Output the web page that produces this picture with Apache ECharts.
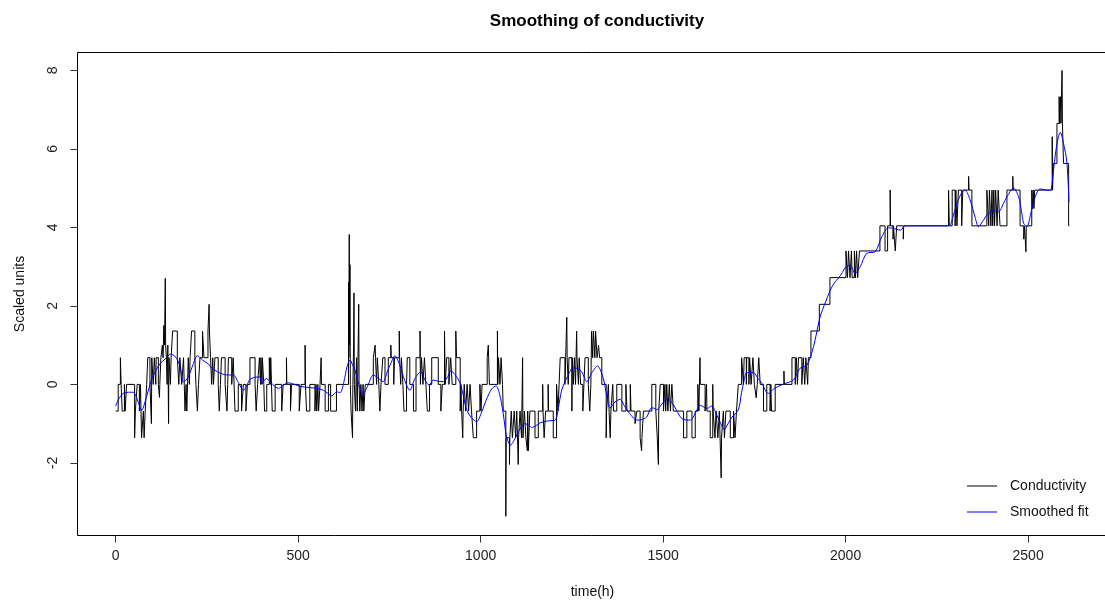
<!DOCTYPE html>
<html>
<head>
<meta charset="utf-8">
<script src="https://cdn.jsdelivr.net/npm/echarts@6/dist/echarts.min.js"></script>
<style>
  html, body { margin: 0; padding: 0; background: #ffffff; }
  #chart { width: 1105px; height: 602px; }
</style>
</head>
<body>
<div id="chart"></div>
<script>
// Axis ticks
const xTicks = [0, 500, 1000, 1500, 2000, 2500];
const yTicks = [-2, 0, 2, 4, 6, 8];

// Conductivity readings: [hour, scaled value]; each value holds until the next hour listed
const conductivity = [
  [0,-0.68],[7,0],[13,0.68],[15,0],[18,-0.68],[24,0],[26,-0.68],[30,0],[52,-1.36],[54,-0.68],[59,0],[65,-0.68],[68,0],
  [71,-1.36],[76,-0.68],[78,-1.36],[81,-0.68],[85,0],[88,0.68],[94,0],[98,-1.0],[99,0.68],[103,0],[106,0.68],[110,0],
  [111,0.68],[117,0],[120,-0.33],[121,0],[124,0.68],[128,1.0],[130,0.68],[132,1.5],[134,1.0],[136,2.7],[137,1.0],[139,0.68],
  [141,0],[143,1.0],[145,-1.0],[146,0.68],[150,0],[152,0.68],[156,1.36],[169,0.68],[173,0],[176,0.68],[181,0],[186,0.68],
  [188,0],[190,-0.68],[193,0],[195,-0.68],[199,0.68],[202,0],[204,0.68],[208,1.36],[217,0.68],[220,0],[224,-0.68],[227,0],
  [231,0.68],[238,1.36],[242,0.68],[253,1.36],[256,2.04],[257,1.36],[260,0.68],[263,0],[266,0.68],[268,0],[272,0.68],[281,0],
  [284,-0.68],[287,0],[290,0.68],[300,0],[305,-0.68],[307,0],[309,0.68],[318,0],[322,0.68],[327,-0.68],[336,0],[345,-0.68],
  [350,0],[357,-0.68],[361,0],[368,0.68],[382,0],[385,-0.68],[389,0],[394,0.68],[397,0],[398,0.68],[401,0],[402,0.68],
  [406,0],[408,-0.68],[414,0],[421,0.68],[424,0],[425,0.68],[429,-0.68],[437,0],[455,-0.68],[459,0],[468,0.68],[469,0],
  [479,-0.68],[482,0],[503,-0.68],[508,0],[519,1.0],[520,0],[523,-0.68],[532,0],[546,-0.68],[549,0],[551,-0.68],[554,0],
  [556,-0.68],[560,0],[563,0.68],[564,0],[574,-0.68],[583,0],[589,-0.68],[605,0],[638,2.6],[639,0.68],[640,3.82],[641,1.0],
  [642,3.05],[643,0],[645,-0.68],[649,-1.36],[650,0],[652,1.0],[653,2.33],[654,0],[657,-0.68],[660,0.68],[662,-0.68],
  [666,2.04],[667,0],[669,-0.68],[672,0],[675,-0.68],[678,0],[680,-0.68],[684,0],[706,0.68],[711,1.0],[712,0.68],[715,0],
  [717,0.68],[721,0],[724,-0.68],[727,0],[732,0.68],[738,0],[747,0.68],[754,1.0],[755,0.68],[762,0],[764,0.68],[777,1.36],
  [778,0.68],[781,0],[783,0.68],[787,0],[790,-0.68],[797,0],[799,0.68],[806,0],[816,-0.68],[823,0.68],[834,1.36],[835,0],
  [838,0.68],[842,0],[846,0.68],[850,0],[854,-0.68],[860,0],[866,0.68],[884,0],[891,-0.68],[895,0],[901,1.36],[903,0],
  [907,0.68],[913,0],[918,0.68],[922,0],[932,1.36],[934,0.68],[944,-0.68],[946,0],[948,-0.68],[951,-1.36],[952,-0.68],
  [955,0],[959,-0.68],[963,0],[967,-0.68],[971,0],[975,-0.68],[980,-1.36],[989,-0.68],[998,0],[1001,-0.68],[1004,0],
  [1018,0.68],[1021,1.0],[1022,0.68],[1024,0],[1046,1.36],[1047,0],[1049,0.68],[1053,0],[1056,0.68],[1060,0],[1062,-0.68],
  [1069,-3.36],[1070,-1.36],[1079,-2.04],[1080,-1.36],[1084,-0.68],[1087,-1.36],[1092,-0.68],[1096,-1.36],[1099,-0.68],
  [1103,-2.04],[1104,-1.36],[1108,-0.68],[1112,-1.36],[1115,0.68],[1116,-1.36],[1120,-0.68],[1124,-1.36],[1128,-1.69],
  [1129,-0.68],[1131,-1.69],[1132,-1.36],[1135,-0.68],[1149,-1.36],[1158,-0.68],[1170,0],[1171,-0.68],[1174,-1.36],
  [1178,-0.68],[1185,0],[1186,-0.68],[1199,-1.36],[1208,0],[1212,-0.68],[1215,0],[1218,0.68],[1231,0],[1233,0.68],
  [1236,1.71],[1237,0.68],[1240,0],[1242,0.68],[1250,-0.68],[1251,0.68],[1254,0],[1257,0.68],[1260,0],[1263,1.36],
  [1264,0.68],[1268,0],[1270,0.68],[1274,0],[1280,-0.68],[1283,0],[1286,0.68],[1295,0],[1299,-0.68],[1302,0],[1304,1.36],
  [1307,0.68],[1309,1.36],[1313,0.68],[1315,1.36],[1319,0.68],[1323,1.0],[1326,0.68],[1332,0],[1344,-1.36],[1345,-0.68],
  [1350,0],[1352,-0.68],[1355,-1.36],[1357,-0.68],[1362,0],[1364,-0.68],[1373,0],[1387,-0.68],[1398,0],[1401,-0.68],
  [1410,0],[1412,-0.68],[1423,-1.0],[1428,-0.68],[1437,-1.36],[1441,-1.69],[1442,-1.36],[1446,-0.68],[1469,0],[1480,-0.68],
  [1484,-1.36],[1487,-2.04],[1488,-0.68],[1492,0],[1501,-0.68],[1505,0],[1507,-0.68],[1510,0],[1513,-0.68],[1517,0],
  [1520,-0.68],[1524,0],[1528,-0.68],[1556,-1.36],[1565,-0.68],[1579,-1.36],[1588,-0.68],[1595,0],[1598,-0.68],[1601,0.68],
  [1602,0],[1615,-0.68],[1619,0],[1620,-0.68],[1629,-1.36],[1636,0],[1637,-0.68],[1642,-1.36],[1645,-0.68],[1650,-1.36],
  [1654,-0.68],[1659,-2.38],[1660,-1.36],[1665,-0.68],[1668,-1.36],[1672,-0.68],[1684,-1.36],[1693,-0.68],[1697,-1.36],
  [1701,-0.68],[1706,0],[1715,0.68],[1720,0],[1722,0.68],[1728,0],[1729,0.68],[1735,0],[1737,0.68],[1741,0],[1746,0.68],
  [1750,0],[1755,-0.34],[1758,0],[1762,0.68],[1766,0],[1775,-0.68],[1784,0],[1793,-0.68],[1795,0],[1797,-0.68],[1807,0],
  [1831,0.34],[1832,0],[1853,0.68],[1862,0],[1865,0.68],[1868,0],[1871,0.68],[1880,0],[1884,0.68],[1888,0],[1891,0.68],
  [1896,0],[1898,0.68],[1905,1.36],[1928,2.04],[1957,2.72],[2001,3.4],[2005,2.72],[2008,3.4],[2012,2.72],[2016,3.4],
  [2018,2.72],[2024,3.4],[2027,2.72],[2030,3.4],[2033,2.72],[2038,3.4],[2094,4.04],[2108,3.4],[2115,4.04],[2122,4.95],
  [2123,4.04],[2130,3.7],[2131,4.04],[2136,3.4],[2140,4.04],[2158,3.7],[2159,4.04],[2282,4.95],[2284,4.04],[2292,4.95],
  [2300,4.04],[2302,4.95],[2305,4.04],[2309,4.95],[2318,4.04],[2321,4.95],[2337,5.3],[2338,4.95],[2346,4.04],[2387,4.95],
  [2392,4.04],[2394,4.95],[2398,4.04],[2401,4.95],[2403,4.04],[2406,4.95],[2408,4.04],[2411,4.95],[2415,4.04],[2418,4.95],
  [2423,4.04],[2442,4.95],[2458,5.3],[2459,4.95],[2478,4.04],[2488,3.7],[2490,4.04],[2494,3.38],[2495,4.04],[2510,4.95],
  [2512,4.48],[2514,4.95],[2516,4.48],[2518,4.95],[2566,6.31],[2567,4.95],[2569,5.63],[2579,6.65],[2585,7.33],[2586,6.65],
  [2589,7.33],[2590,6.65],[2593,8.0],[2594,6.65],[2597,5.63],[2611,4.04],[2613,4.04]
];

// Smoothed fit: [hour, scaled value]
const smoothed = [
  [0,-0.55],[10,-0.35],[21,-0.23],[35,-0.2],[48,-0.2],[58,-0.35],[71,-0.66],[85,-0.3],[99,0.14],[110,0.35],[121,0.52],
  [136,0.65],[151,0.77],[162,0.72],[172,0.58],[180,0.3],[185,0.07],[192,0.1],[199,0.19],[212,0.5],[224,0.73],[238,0.62],
  [254,0.52],[263,0.42],[272,0.36],[288,0.28],[304,0.24],[322,0.24],[336,0.05],[350,-0.15],[363,0.04],[368,0.13],[381,0.18],
  [395,0.19],[400,0.02],[413,0.15],[430,0.0],[446,-0.1],[460,-0.02],[473,0.04],[490,0.0],[505,-0.05],[530,-0.08],[551,-0.1],
  [569,-0.15],[580,-0.22],[592,-0.29],[606,-0.19],[615,-0.21],[625,0.05],[634,0.45],[642,0.62],[649,0.5],[656,0.36],
  [666,0.0],[677,-0.25],[690,-0.05],[706,0.24],[720,0.15],[733,0.07],[745,0.35],[752,0.49],[765,0.73],[778,0.5],[792,0.1],
  [806,-0.15],[820,0.15],[836,0.32],[848,0.1],[859,-0.02],[870,0.11],[884,0.08],[898,0.07],[910,0.2],[918,0.34],[930,0.25],
  [944,0.02],[953,-0.3],[962,-0.65],[975,-0.85],[989,-0.95],[1003,-0.7],[1017,-0.36],[1030,-0.12],[1042,-0.04],[1052,-0.25],
  [1062,-0.75],[1071,-1.33],[1082,-1.55],[1090,-1.45],[1099,-1.29],[1110,-1.1],[1121,-1.0],[1135,-1.06],[1140,-1.1],
  [1152,-1.05],[1163,-0.98],[1185,-0.93],[1204,-0.91],[1213,-0.6],[1222,-0.15],[1238,0.2],[1254,0.42],[1266,0.4],
  [1277,0.32],[1291,0.07],[1305,0.3],[1320,0.47],[1335,0.19],[1345,-0.25],[1355,-0.6],[1368,-0.45],[1382,-0.38],
  [1394,-0.55],[1405,-0.7],[1428,-0.91],[1440,-0.9],[1455,-0.83],[1465,-0.62],[1473,-0.6],[1482,-0.65],[1497,-0.5],
  [1512,-0.36],[1530,-0.55],[1551,-0.87],[1574,-0.91],[1590,-0.7],[1601,-0.53],[1612,-0.58],[1621,-0.61],[1633,-0.55],
  [1647,-0.78],[1658,-1.0],[1667,-1.15],[1678,-1.0],[1688,-0.84],[1706,-0.65],[1715,-0.2],[1722,0.1],[1729,0.3],[1747,0.3],
  [1760,0.15],[1770,0.03],[1788,-0.23],[1805,-0.1],[1830,0.01],[1857,0.11],[1875,0.41],[1894,0.49],[1912,0.96],[1930,1.72],
  [1945,2.1],[1958,2.4],[1970,2.6],[1980,2.7],[1991,2.85],[2001,3.0],[2012,3.04],[2026,2.83],[2040,3.0],[2058,3.34],
  [2081,3.38],[2099,3.76],[2117,3.99],[2128,3.98],[2140,3.95],[2150,3.93],[2163,4.04],[2200,4.04],[2282,4.04],[2295,4.3],
  [2305,4.61],[2318,4.88],[2327,4.95],[2341,4.7],[2355,4.25],[2364,4.02],[2378,4.19],[2390,4.35],[2401,4.42],[2419,4.4],
  [2432,4.6],[2442,4.78],[2460,5.0],[2474,4.78],[2482,4.4],[2488,4.1],[2497,4.02],[2506,4.3],[2515,4.65],[2525,4.9],
  [2533,4.98],[2550,4.95],[2561,4.95],[2569,5.42],[2576,5.95],[2583,6.31],[2588,6.42],[2597,6.14],[2606,5.67],[2612,4.65]
];

const FONT = "'Liberation Sans', Arial, sans-serif";
const plainNumber = v => String(v);

const chart = echarts.init(document.getElementById('chart'), null, { renderer: 'canvas' });

chart.setOption({
  animation: false,
  backgroundColor: '#ffffff',
  title: {
    text: 'Smoothing of conductivity',
    left: 592,
    textAlign: 'center',
    top: 8,
    textStyle: { fontFamily: FONT, fontSize: 17, fontWeight: 'bold', color: '#000' }
  },
  legend: {
    orient: 'vertical',
    left: 967,
    top: 478,
    padding: 0,
    itemGap: 10,
    itemWidth: 30,
    itemHeight: 1,
    icon: 'rect',
    textStyle: { fontFamily: FONT, fontSize: 14, color: '#111', lineHeight: 16, padding: [0, 0, 0, 8] },
    data: ['Conductivity', 'Smoothed fit']
  },
  grid: {
    left: 77.5,
    top: 52.5,
    width: 1030,
    height: 483,
    outerBoundsMode: 'none',
    containLabel: false,
    show: true,
    borderColor: '#000',
    borderWidth: 1,
    backgroundColor: 'transparent'
  },
  xAxis: {
    type: 'value',
    min: -104.5,
    max: 2717.5,
    name: 'time(h)',
    nameLocation: 'middle',
    nameGap: 50,
    nameTextStyle: { fontFamily: FONT, fontSize: 14, color: '#111' },
    axisLine: { show: false, onZero: false },
    splitLine: { show: false },
    axisTick: { show: true, length: 7, inside: false, customValues: xTicks, lineStyle: { color: '#333' } },
    axisLabel: { customValues: xTicks, margin: 14, fontFamily: FONT, fontSize: 14, color: '#222', formatter: plainNumber }
  },
  yAxis: {
    type: 'value',
    min: -3.85,
    max: 8.456,
    name: 'Scaled units',
    nameLocation: 'middle',
    nameGap: 50,
    nameRotate: 90,
    nameTextStyle: { fontFamily: FONT, fontSize: 14, color: '#111' },
    axisLine: { show: false, onZero: false },
    splitLine: { show: false },
    axisTick: { show: true, length: 7, inside: false, customValues: yTicks, lineStyle: { color: '#333' } },
    axisLabel: { customValues: yTicks, rotate: 90, margin: 17, fontFamily: FONT, fontSize: 14, color: '#222', formatter: plainNumber }
  },
  series: [
    {
      name: 'Conductivity',
      type: 'line',
      data: conductivity,
      step: 'end',
      showSymbol: false,
      symbol: 'none',
      sampling: false,
      color: '#000000',
      lineStyle: { color: '#000000', width: 1 },
      z: 2
    },
    {
      name: 'Smoothed fit',
      type: 'line',
      data: smoothed,
      smooth: 0.3,
      showSymbol: false,
      symbol: 'none',
      color: '#0000ff',
      lineStyle: { color: '#0000ff', width: 1 },
      z: 3
    }
  ]
});
</script>
</body>
</html>
